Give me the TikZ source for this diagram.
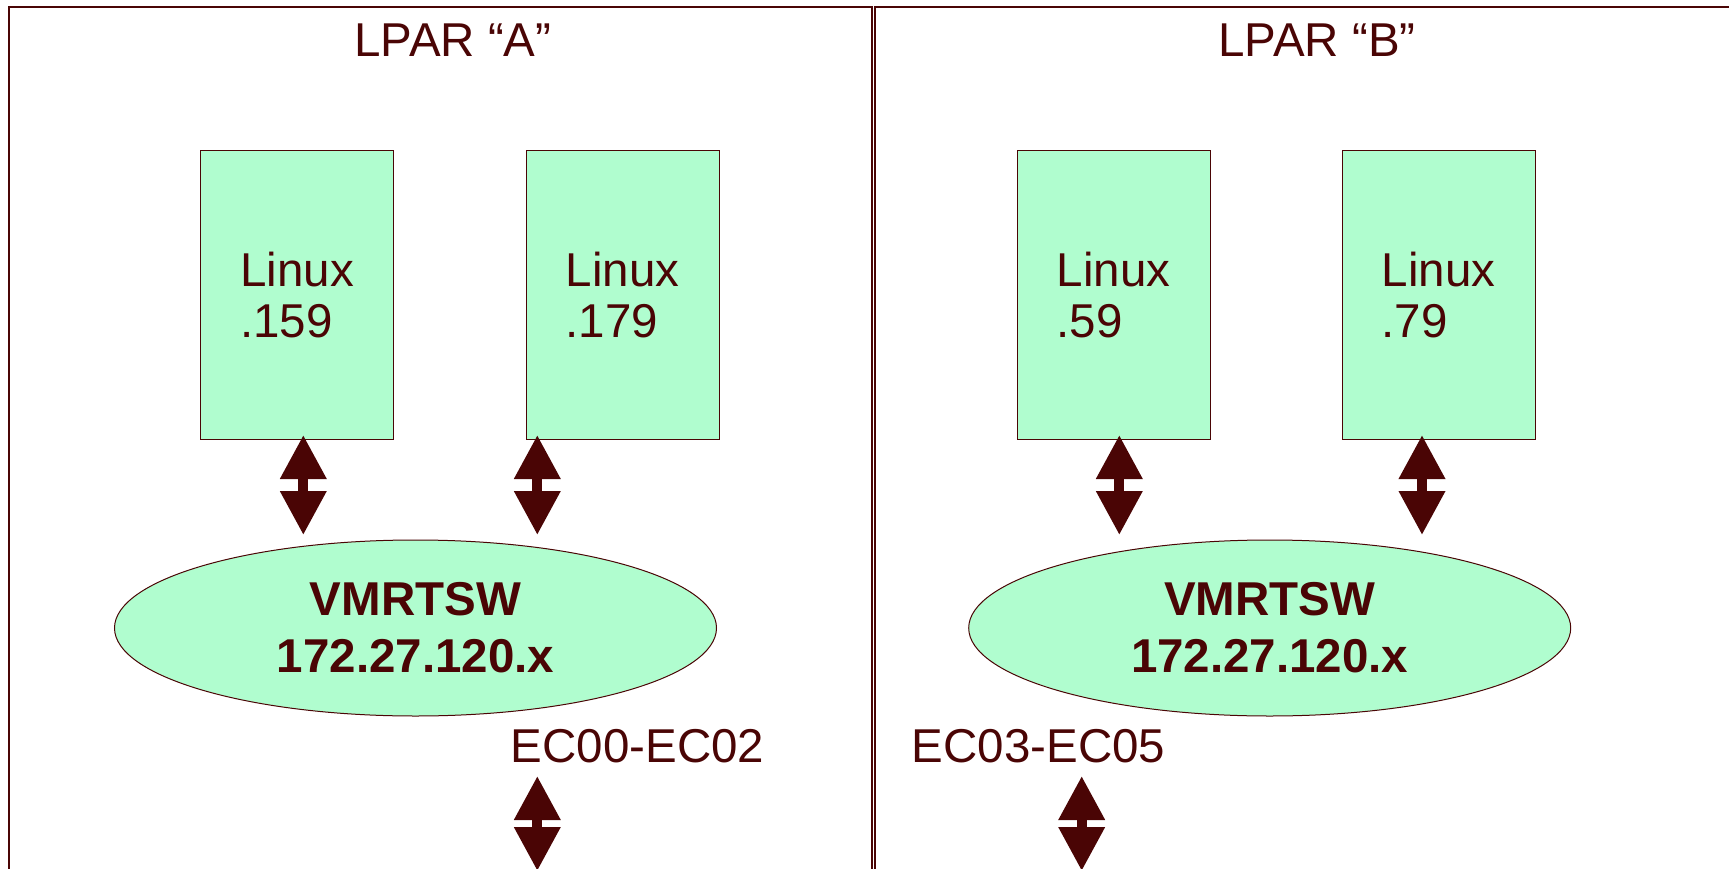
\documentclass[tikz,border=0pt]{standalone}
\usepackage{fontspec}
\setmainfont{Liberation Sans}
\usetikzlibrary{arrows.meta,shapes.geometric}
\definecolor{ink}{HTML}{4A0505}
\definecolor{mint}{HTML}{B0FDCF}
\tikzset{
 frame/.style={draw=ink,line width=1.8pt},
 vm/.style={draw=ink,fill=mint,line width=1pt,minimum width=193pt,minimum height=288pt,inner sep=0pt,align=left,text=ink,font=\fontsize{47.5}{51}\selectfont},
 sw/.style={ellipse,draw=ink,fill=mint,line width=1pt,minimum width=602pt,minimum height=176pt,inner sep=0pt,align=center,text=ink,font=\fontsize{47.5}{57}\selectfont\bfseries},
 lbl/.style={text=ink,font=\fontsize{47.5}{51}\selectfont,inner sep=0pt},
 dbl/.style={draw=ink,line width=10pt,{Triangle[width=44pt,length=44pt]}-{Triangle[width=44pt,length=44pt]}},
}
\begin{document}
\begin{tikzpicture}[x=1pt,y=-1pt]
\useasboundingbox (0,0) rectangle (1729,869);
\clip (0,0) rectangle (1729,869);
% partitions
\draw[frame] (8.6,900) -- (8.6,6.7) -- (872.3,6.7) -- (872.3,900);
\draw[frame] (1760,6.7) -- (875.3,6.7) -- (875.3,900);
% titles
\node[lbl,anchor=base] (ta) at (453,56.7) {LPAR “A”};
\node[lbl,anchor=base] (tb) at (1317,56.7) {LPAR “B”};
% linux guests
\node[vm] (l1) at (297,295) {Linux\\.159};
\node[vm] (l2) at (622.5,295) {Linux\\.179};
\node[vm] (l3) at (1113.5,295) {Linux\\.59};
\node[vm] (l4) at (1438.5,295) {Linux\\.79};
% switches
\node[sw] (swa) at (415.5,628) {VMRTSW\\172.27.120.x};
\node[sw] (swb) at (1269.7,628) {VMRTSW\\172.27.120.x};
% channel labels
\node[lbl,anchor=base west] (eca) at (510.7,762.3) {EC00-EC02};
\node[lbl,anchor=base west] (ecb) at (911.7,762.3) {EC03-EC05};
% arrow end points
\coordinate (a1t) at (303.3,435); \coordinate (a1b) at (303.3,535);
\coordinate (a2t) at (537.3,435); \coordinate (a2b) at (537.3,535);
\coordinate (a3t) at (1119.3,435); \coordinate (a3b) at (1119.3,535);
\coordinate (a4t) at (1422,435); \coordinate (a4b) at (1422,535);
\coordinate (a5t) at (537.3,776); \coordinate (a5b) at (537.3,871);
\coordinate (a6t) at (1081.7,776); \coordinate (a6b) at (1081.7,871);
\draw[dbl] (a1t) -- (a1b);
\draw[dbl] (a2t) -- (a2b);
\draw[dbl] (a3t) -- (a3b);
\draw[dbl] (a4t) -- (a4b);
\draw[dbl] (a5t) -- (a5b);
\draw[dbl] (a6t) -- (a6b);
\end{tikzpicture}
\end{document}
